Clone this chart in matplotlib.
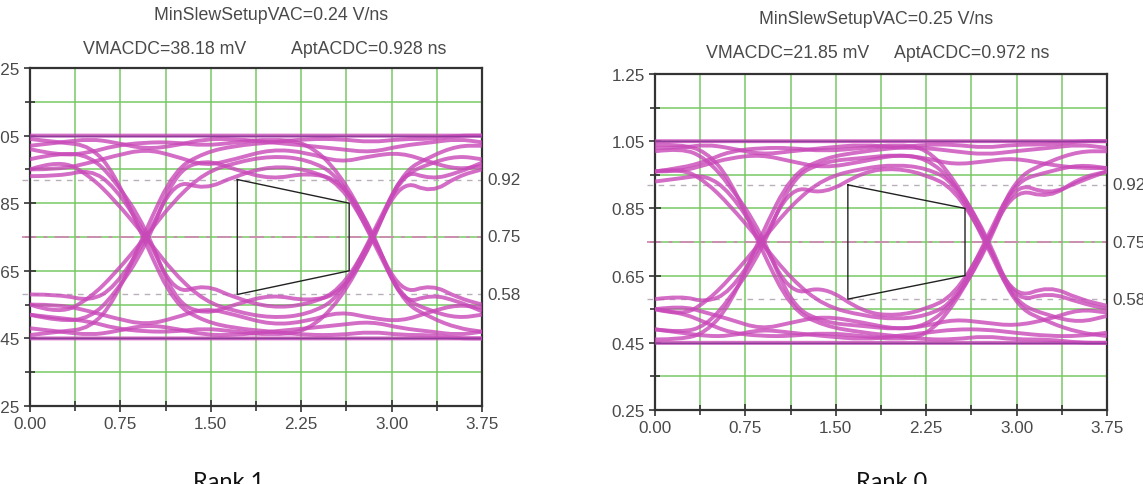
import numpy as np
import matplotlib
matplotlib.use('Agg')
import matplotlib.pyplot as plt
from matplotlib.path import Path
from matplotlib.patches import PathPatch
import matplotlib.transforms as mtrans

plt.rcParams['font.family'] = ['Liberation Sans', 'DejaVu Sans']

# ---- data ---------------------------------------------------------------
x_ticks = [0.00, 0.75, 1.50, 2.25, 3.00, 3.75]
x_tick_labels = ['0.00', '0.75', '1.50', '2.25', '3.00', '3.75']
x_minor = [0.375, 1.125, 1.875, 2.625, 3.375]
y_ticks = [0.25, 0.45, 0.65, 0.85, 1.05, 1.25]
y_tick_labels = ['0.25', '0.45', '0.65', '0.85', '1.05', '1.25']
y_minor = [0.35, 0.55, 0.75, 0.95, 1.15]
ref_levels = [0.92, 0.75, 0.58]
ref_labels = ['0.92', '0.75', '0.58']

# Rank 1 (left)
t_rank1 = [0.00, 0.25, 0.50, 0.70, 0.96, 1.20, 1.45, 1.70, 2.00, 2.30, 2.57, 2.83, 3.08, 3.33, 3.55, 3.75]
traces_rank1 = [
    [1.05, 1.05, 1.05, 1.05, 1.05, 1.05, 1.05, 1.05, 1.05, 1.05, 1.05, 1.05, 1.05, 1.05, 1.05, 1.05],
    [0.45, 0.45, 0.45, 0.45, 0.45, 0.45, 0.45, 0.45, 0.45, 0.45, 0.45, 0.45, 0.45, 0.45, 0.45, 0.45],
    [1.02, 1.03, 1.04, 1.03, 1.01, 1.02, 1.04, 1.04, 1.03, 1.02, 1.01, 1.00, 1.02, 1.03, 1.04, 1.03],
    [0.48, 0.47, 0.46, 0.47, 0.49, 0.48, 0.46, 0.46, 0.47, 0.48, 0.49, 0.50, 0.48, 0.47, 0.46, 0.47],
    [0.58, 0.58, 0.56, 0.60, 0.74, 0.92, 0.89, 0.93, 0.96, 0.95, 0.91, 0.76, 0.58, 0.61, 0.57, 0.55],
    [0.93, 0.93, 0.95, 0.90, 0.76, 0.58, 0.61, 0.57, 0.54, 0.55, 0.59, 0.74, 0.92, 0.88, 0.93, 0.95],
    [0.46, 0.47, 0.48, 0.56, 0.77, 0.95, 1.00, 1.02, 1.03, 1.04, 1.04, 1.03, 1.04, 1.04, 1.05, 1.05],
    [1.04, 1.03, 1.02, 0.94, 0.73, 0.55, 0.50, 0.48, 0.47, 0.46, 0.46, 0.47, 0.46, 0.46, 0.45, 0.45],
    [1.01, 0.99, 1.00, 1.02, 1.03, 1.03, 1.02, 1.03, 1.04, 1.03, 0.94, 0.77, 0.56, 0.51, 0.48, 0.47],
    [0.52, 0.51, 0.50, 0.48, 0.47, 0.47, 0.48, 0.47, 0.46, 0.47, 0.56, 0.73, 0.94, 0.99, 1.02, 1.02],
    [0.55, 0.52, 0.57, 0.64, 0.75, 0.86, 0.94, 0.97, 0.99, 0.98, 0.93, 0.75, 0.57, 0.53, 0.51, 0.52],
    [0.95, 0.98, 0.93, 0.86, 0.75, 0.64, 0.56, 0.53, 0.51, 0.52, 0.57, 0.75, 0.93, 0.97, 0.99, 0.98],
    [0.98, 1.00, 0.99, 0.92, 0.78, 0.56, 0.52, 0.55, 0.58, 0.56, 0.58, 0.72, 0.95, 0.92, 0.94, 0.97],
    [0.52, 0.50, 0.51, 0.58, 0.72, 0.94, 0.98, 0.95, 0.92, 0.94, 0.92, 0.78, 0.55, 0.58, 0.56, 0.53],
    [0.95, 0.95, 0.97, 0.99, 1.01, 0.99, 0.96, 0.98, 1.01, 1.00, 0.97, 0.99, 1.00, 0.97, 0.95, 0.96],
    [0.55, 0.55, 0.53, 0.51, 0.49, 0.51, 0.54, 0.52, 0.49, 0.50, 0.53, 0.51, 0.50, 0.53, 0.55, 0.54],
]
mask_t_rank1 = [1.72, 2.648, 2.648, 1.72, 1.72]
mask_v_rank1 = [0.92, 0.85, 0.65, 0.58, 0.92]

# Rank 0 (right)
t_rank0 = [0.00, 0.22, 0.42, 0.62, 0.88, 1.13, 1.40, 1.73, 2.00, 2.25, 2.48, 2.74, 2.98, 3.27, 3.52, 3.75]
traces_rank0 = [
    [1.05, 1.05, 1.05, 1.05, 1.05, 1.05, 1.05, 1.05, 1.05, 1.05, 1.05, 1.05, 1.05, 1.05, 1.05, 1.05],
    [0.45, 0.45, 0.45, 0.45, 0.45, 0.45, 0.45, 0.45, 0.45, 0.45, 0.45, 0.45, 0.45, 0.45, 0.45, 0.45],
    [1.03, 1.03, 1.04, 1.03, 1.01, 1.02, 1.03, 1.04, 1.03, 1.03, 1.02, 1.01, 1.02, 1.03, 1.04, 1.03],
    [0.49, 0.48, 0.47, 0.47, 0.49, 0.48, 0.47, 0.46, 0.47, 0.48, 0.49, 0.49, 0.48, 0.47, 0.47, 0.48],
    [0.58, 0.59, 0.57, 0.60, 0.74, 0.92, 0.89, 0.96, 0.97, 0.95, 0.91, 0.76, 0.58, 0.62, 0.58, 0.56],
    [0.93, 0.94, 0.95, 0.90, 0.76, 0.59, 0.62, 0.54, 0.53, 0.55, 0.59, 0.74, 0.91, 0.88, 0.94, 0.96],
    [0.46, 0.46, 0.48, 0.56, 0.77, 0.95, 1.00, 1.02, 1.03, 1.04, 1.04, 1.03, 1.04, 1.04, 1.05, 1.05],
    [1.04, 1.04, 1.02, 0.94, 0.73, 0.55, 0.50, 0.48, 0.47, 0.46, 0.46, 0.47, 0.46, 0.46, 0.45, 0.45],
    [0.96, 0.97, 0.99, 1.02, 1.03, 1.03, 1.02, 1.03, 1.04, 1.03, 0.94, 0.77, 0.56, 0.51, 0.48, 0.47],
    [0.55, 0.54, 0.51, 0.48, 0.47, 0.47, 0.48, 0.47, 0.46, 0.47, 0.56, 0.73, 0.94, 0.99, 1.02, 1.02],
    [0.55, 0.53, 0.57, 0.64, 0.75, 0.86, 0.94, 0.97, 0.98, 0.97, 0.93, 0.75, 0.57, 0.53, 0.51, 0.53],
    [0.96, 0.97, 0.93, 0.86, 0.75, 0.64, 0.56, 0.53, 0.52, 0.53, 0.57, 0.75, 0.93, 0.96, 0.98, 0.97],
    [1.02, 1.03, 1.00, 0.92, 0.78, 0.56, 0.51, 0.50, 0.49, 0.50, 0.57, 0.72, 0.93, 0.89, 0.93, 0.96],
    [0.49, 0.48, 0.50, 0.58, 0.72, 0.94, 0.99, 1.00, 1.01, 1.00, 0.93, 0.78, 0.57, 0.60, 0.57, 0.55],
    [0.96, 0.96, 0.98, 1.00, 1.01, 0.99, 0.97, 0.99, 1.01, 1.00, 0.98, 0.99, 1.00, 0.98, 0.97, 0.97],
    [0.55, 0.56, 0.54, 0.52, 0.49, 0.51, 0.53, 0.51, 0.49, 0.50, 0.52, 0.51, 0.50, 0.52, 0.55, 0.54],
]
mask_t_rank0 = [1.60, 2.572, 2.572, 1.60, 1.60]
mask_v_rank0 = [0.92, 0.85, 0.65, 0.58, 0.92]

TRACE = '#c848b8'
GRID = '#78c964'
TXT = '#4a4a4a'
FS = 12.3


def smooth_trace(ax, t, v, **kw):
    # quadratic bezier through midpoints, drawn by matplotlib's path renderer
    pts = np.column_stack([t, v])
    verts = [pts[0]]
    codes = [Path.MOVETO]
    for i in range(1, len(pts) - 1):
        verts += [pts[i], (pts[i] + pts[i + 1]) / 2]
        codes += [Path.CURVE3, Path.CURVE3]
    verts.append(pts[-1])
    codes.append(Path.LINETO)
    ax.add_patch(PathPatch(Path(verts, codes), fill=False, **kw))


def eye_panel(ax, t, traces, mask_t, mask_v):
    ax.set_xlim(0, 3.75)
    ax.set_ylim(0.25, 1.25)
    ax.set_xticks(x_ticks)
    ax.set_xticklabels(x_tick_labels)
    ax.set_xticks(x_minor, minor=True)
    ax.set_yticks(y_ticks)
    ax.set_yticklabels(y_tick_labels)
    ax.set_yticks(y_minor, minor=True)
    ax.tick_params(which='both', direction='inout', colors='#333333',
                   labelcolor=TXT, labelsize=FS, width=1.2)
    ax.tick_params(which='major', length=9, pad=3)
    ax.tick_params(which='minor', length=7)
    ax.grid(which='both', color=GRID, lw=1.1)
    ax.set_axisbelow(True)
    for s in ax.spines.values():
        s.set_color('#333333')
        s.set_linewidth(1.6)

    # reference levels
    ax.plot([-0.07, 3.75], [0.75, 0.75], color='#d08ab4', lw=1.3,
            ls=(0, (8, 4, 2, 4)), clip_on=False, zorder=2)
    for lv in (0.92, 0.58):
        ax.plot([-0.07, 3.75], [lv, lv], color='#b8b0b8', lw=1.0,
                ls=(0, (4, 4)), clip_on=False, zorder=2)
    trans = mtrans.blended_transform_factory(ax.transAxes, ax.transData)
    for lv, lab in zip(ref_levels, ref_labels):
        ax.text(1.011, lv, lab, transform=trans, ha='left', va='center',
                fontsize=FS, color=TXT)

    for v in traces:
        smooth_trace(ax, t, v, edgecolor=TRACE, lw=2.8, alpha=0.8, zorder=3)
    ax.plot([0, 3.75], [1.05, 1.05], color='#8e3c9e', lw=1.0, zorder=4)
    ax.plot([0, 3.75], [0.45, 0.45], color='#8e3c9e', lw=1.0, zorder=4)

    ax.plot(mask_t, mask_v, color='#222222', lw=1.0, zorder=5)


fig = plt.figure(figsize=(11.43, 4.85), dpi=100)
W, H = 1143, 485

ax1 = fig.add_axes([30 / W, 1 - 407 / H, 452 / W, 338 / H])
eye_panel(ax1, t_rank1, traces_rank1, mask_t_rank1, mask_v_rank1)
ax2 = fig.add_axes([655 / W, 1 - 411 / H, 452 / W, 336 / H])
eye_panel(ax2, t_rank0, traces_rank0, mask_t_rank0, mask_v_rank0)

TFS = 12.8
fig.text(271 / W, 1 - 15 / H, 'MinSlewSetupVAC=0.24 V/ns', ha='center', va='center',
         fontsize=TFS, color=TXT)
fig.text(165 / W, 1 - 49 / H, 'VMACDC=38.18 mV', ha='center', va='center',
         fontsize=TFS, color=TXT)
fig.text(369 / W, 1 - 49 / H, 'AptACDC=0.928 ns', ha='center', va='center',
         fontsize=TFS, color=TXT)

fig.text(876 / W, 1 - 20 / H, 'MinSlewSetupVAC=0.25 V/ns', ha='center', va='center',
         fontsize=TFS, color=TXT)
fig.text(788 / W, 1 - 54 / H, 'VMACDC=21.85 mV', ha='center', va='center',
         fontsize=TFS, color=TXT)
fig.text(972 / W, 1 - 54 / H, 'AptACDC=0.972 ns', ha='center', va='center',
         fontsize=TFS, color=TXT)

fig.text(229 / W, 1 - 472 / H, 'Rank 1', ha='center', va='top',
         fontsize=17, color='#111111', family=['Lato', 'DejaVu Sans'])
fig.text(892 / W, 1 - 472 / H, 'Rank 0', ha='center', va='top',
         fontsize=17, color='#111111', family=['Lato', 'DejaVu Sans'])

fig.savefig('out.png', dpi=100)
